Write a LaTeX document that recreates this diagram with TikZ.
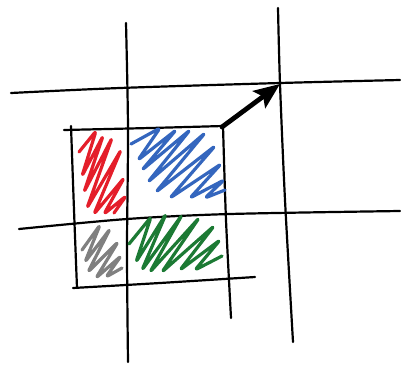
\documentclass[tikz,border=0pt]{standalone}
\usetikzlibrary{arrows.meta}
\definecolor{sred}{RGB}{228,30,42}
\definecolor{sblue}{RGB}{52,102,190}
\definecolor{sgray}{RGB}{128,128,128}
\definecolor{sgreen}{RGB}{28,122,52}
\tikzset{
  gridline/.style={line width=2.2pt, line cap=round, line join=round},
  scribble/.style={line width=3.2pt, line cap=round, line join=round, rounded corners=3pt},
}
\begin{document}
\begin{tikzpicture}[x=1pt,y=-1pt]
\useasboundingbox (0,0) rectangle (401,367);
% grid lines
\draw[gridline] plot[smooth] coordinates {(11,93) (120,88) (280,83) (400,80)};
\draw[gridline] plot[smooth] coordinates {(19,229) (127,219) (230,214) (400,211)};
\draw[gridline] plot[smooth] coordinates {(126,23) (128,130) (127,250) (128,362)};
\draw[gridline] plot[smooth] coordinates {(278,8) (280,84) (285,200) (293,342)};
% square
\draw[gridline] plot[smooth] coordinates {(64,130) (150,128) (223,126)};
\draw[gridline] plot[smooth] coordinates {(71,126) (74,210) (77,288)};
\draw[gridline] plot[smooth] coordinates {(73,288) (160,283) (255,277)};
\draw[gridline] plot[smooth] coordinates {(223,126) (226,220) (231,318)};
% scribbles
\draw[scribble, sred] (79,152) -- (96,131) -- (82,176) -- (103,136) -- (84,192) -- (112,138) -- (87,208) -- (121,150) -- (94,214) -- (124,178) -- (104,214) -- (126,196) -- (114,213);
\draw[scribble, sblue] (131,144) -- (160,128) -- (138,160) -- (176,130) -- (142,170) -- (190,130) -- (148,182) -- (205,133) -- (156,192) -- (215,146) -- (170,198) -- (221,164) -- (190,198) -- (224,180) -- (205,198) -- (225,190);
\draw[scribble, sgray] (82,250) -- (100,225) -- (85,262) -- (110,229) -- (88,272) -- (118,242) -- (96,278) -- (121,256) -- (106,277) -- (122,268);
\draw[scribble, sgreen] (129,244) -- (151,217) -- (136,262) -- (166,214) -- (142,270) -- (182,215) -- (150,272) -- (199,218) -- (162,272) -- (214,226) -- (180,270) -- (220,240) -- (195,270) -- (222,256);
% arrow
\coordinate (corner) at (222,127);
\coordinate (cross) at (280,84);
\draw[line width=4.8pt, line cap=round, -{Stealth[length=26pt,width=21pt,inset=5pt]}] (corner) -- (cross);
\end{tikzpicture}
\end{document}
